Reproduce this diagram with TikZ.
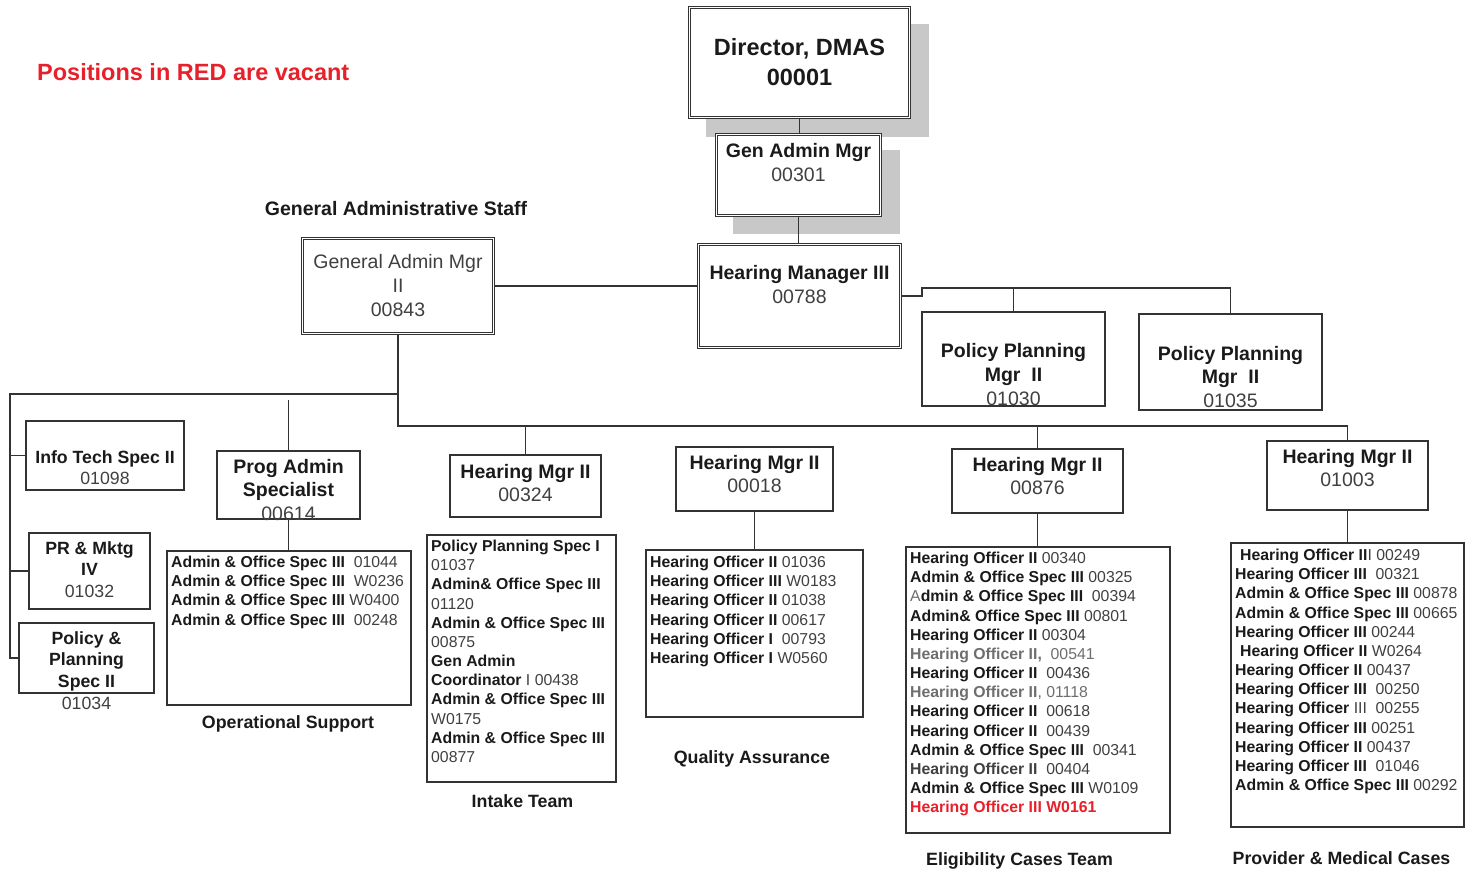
\documentclass[tikz,border=0pt]{standalone}
\usepackage{fontspec}
\setmainfont{Liberation Sans}
\usetikzlibrary{fit}

\definecolor{ink}{HTML}{1A1A1A}
\definecolor{numc}{HTML}{404040}
\definecolor{pale}{HTML}{6E6E6E}
\definecolor{rule}{HTML}{333333}
\definecolor{shadowgray}{HTML}{C8C8C8}
\definecolor{vacant}{HTML}{E8202A}

% position numbers are set upright in grey
\newcommand\numtxt[1]{{\mdseries\color{numc}#1}}

\begin{document}
\begin{tikzpicture}[x=1pt,y=-1pt,
  box/.style={draw=rule,line width=1.1pt,fill=white,inner sep=0pt,outer sep=0pt},
  dbox/.style={box,line width=0.9pt,double=white,double distance=1.8pt},
  conn/.style={draw=rule,line width=1.1pt},
  ttl/.style={anchor=north,align=center,inner sep=0pt,text=ink,
              font=\fontsize{19.5}{24}\selectfont\bfseries},
  sml/.style={ttl,font=\fontsize{17.7}{21.5}\selectfont\bfseries},
  lst/.style={anchor=north west,align=left,inner sep=0pt,text=ink,
              font=\fontsize{15.8}{19.15}\selectfont\bfseries},
  lbl/.style={anchor=base,inner sep=0pt,text=ink,
              font=\fontsize{17.8}{21}\selectfont\bfseries},
]
\useasboundingbox[fill=white] (0,0) rectangle (1471,871);

% drop shadows of the two top boxes
\fill[shadowgray] (706,24) rectangle (929,137);
\fill[shadowgray] (733,150) rectangle (900,234);

% ---------- boxes ----------
\node[dbox,fit={(689.5,7.5)(909.5,117.5)}] (dir) {};
\node[dbox,fit={(716.5,134.5)(880.5,215.5)}] (gam) {};
\node[dbox,fit={(698.5,244.5)(900.5,347.5)}] (hm3) {};
\node[dbox,fit={(302.5,238.5)(493.5,333.5)}] (gam2) {};

\node[box,fit={(922,312)(1105,406)}] (ppm1) {};
\node[box,fit={(1139,314)(1322,410)}] (ppm2) {};

\node[box,fit={(26,421)(184,490)}] (info) {};
\node[box,fit={(29,533)(150,609)}] (pr) {};
\node[box,fit={(19,623)(154,693)}] (polsp) {};
\node[box,fit={(217,451)(360,519)}] (prog) {};

\node[box,fit={(450,455)(601,517)}] (hm324) {};
\node[box,fit={(676,447)(833,511)}] (hm018) {};
\node[box,fit={(952,449)(1123,513)}] (hm876) {};
\node[box,fit={(1267,441)(1428,510)}] (hm1003) {};

\node[box,fit={(167,551)(411,705)}] (ops) {};
\node[box,fit={(427,535)(616,782)}] (intake) {};
\node[box,fit={(646,550)(863,717)}] (qa) {};
\node[box,fit={(906,547)(1170,833)}] (elig) {};
\node[box,fit={(1231,543)(1464,827)}] (prov) {};

% ---------- connectors ----------
\coordinate (ppjog) at (922,288);
\coordinate (lbus) at (10,394);
\coordinate (rbus) at (398,426);
\coordinate (progtop) at (288.5,400);

\draw[conn] (dir.south) -- (dir.south |- gam.north);
\draw[conn] (gam.south) -- (gam.south |- hm3.north);
\draw[conn] (gam2.east) -- (gam2.east -| hm3.west);
\draw[conn] (hm3.east) -| (ppjog) -| (ppm2.north);
\draw[conn] (ppm1.north |- ppjog) -- (ppm1.north);

\draw[conn] (gam2.south) -- (rbus) -| (hm1003.north);
\draw[conn] (gam2.south |- lbus) -- (lbus) |- (polsp.west);
\draw[conn] (lbus |- info.west) -- (info.west);
\draw[conn] (lbus |- pr.west) -- (pr.west);
\draw[conn] (progtop) -- (prog.north);
\draw[conn] (prog.south) -- (prog.south |- ops.north);
\draw[conn] (hm324.north |- rbus) -- (hm324.north);
\draw[conn] (hm876.north |- rbus) -- (hm876.north);
\draw[conn] (hm018.south) -- (hm018.south |- qa.north);
\draw[conn] (hm876.south) -- (hm876.south |- elig.north);
\draw[conn] (hm1003.south) -- (hm1003.south |- prov.north);

% redraw double outlines over connector ends
\foreach \b in {dir,gam,hm3,gam2}{\draw[rule,line width=0.9pt,double=white,double distance=1.8pt] (\b.north west) rectangle (\b.south east);}

% ---------- box texts ----------
\node[ttl,font=\fontsize{23.5}{30}\selectfont\bfseries] (dirT) at (799.5,38) {Director, DMAS\\00001};
\node[ttl,font=\fontsize{19.5}{24.5}\selectfont\bfseries] (gamT) at (798.5,143) {Gen Admin Mgr\\\numtxt{00301}};
\node[ttl] (hm3T) at (799.5,265) {Hearing Manager III\\\numtxt{00788}};
\node[ttl,font=\fontsize{19.5}{24}\selectfont,text=numc] (gam2T) at (398,254) {General Admin Mgr\\II\\00843};
\node[ttl] (ppm1T) at (1013.5,343) {Policy Planning\\Mgr~~II\\\numtxt{01030}};
\node[ttl,font=\fontsize{19.5}{23.5}\selectfont\bfseries] (ppm2T) at (1230.5,346) {Policy Planning\\Mgr~~II\\\numtxt{01035}};

\node[sml,font=\fontsize{17.7}{21}\selectfont\bfseries] (infoT) at (105,450) {Info Tech Spec II\\\numtxt{01098}};
\node[sml] (prT) at (89.5,541) {PR \& Mktg\\IV\\\numtxt{01032}};
\node[sml,font=\fontsize{17.7}{21.7}\selectfont\bfseries] (polspT) at (86.5,631) {Policy \&\\Planning\\Spec II\\\numtxt{01034}};
\node[ttl,font=\fontsize{19.5}{23.5}\selectfont\bfseries] (progT) at (288.5,459) {Prog Admin\\Specialist\\\numtxt{00614}};

\node[ttl,font=\fontsize{19.5}{23}\selectfont\bfseries] (hm324T) at (525.5,464) {Hearing Mgr II\\\numtxt{00324}};
\node[ttl,font=\fontsize{19.5}{23}\selectfont\bfseries] (hm018T) at (754.5,455) {Hearing Mgr II\\\numtxt{00018}};
\node[ttl,font=\fontsize{19.5}{23}\selectfont\bfseries] (hm876T) at (1037.5,457) {Hearing Mgr II\\\numtxt{00876}};
\node[ttl,font=\fontsize{19.5}{23}\selectfont\bfseries] (hm1003T) at (1347.5,449) {Hearing Mgr II\\\numtxt{01003}};

% ---------- staff lists ----------
\node[lst] (opsL) at (171,556) {%
Admin \& Office Spec III~~\numtxt{01044}\\
Admin \& Office Spec III~~\numtxt{W0236}\\
Admin \& Office Spec III \numtxt{W0400}\\
Admin \& Office Spec III~~\numtxt{00248}};

\node[lst] (intakeL) at (431,540) {%
Policy Planning Spec I\\
\numtxt{01037}\\
Admin\& Office Spec III\\
\numtxt{01120}\\
Admin \& Office Spec III\\
\numtxt{00875}\\
Gen Admin\\
Coordinator \numtxt{I 00438}\\
Admin \& Office Spec III\\
\numtxt{W0175}\\
Admin \& Office Spec III\\
\numtxt{00877}};

\node[lst] (qaL) at (650,556) {%
Hearing Officer II \numtxt{01036}\\
Hearing Officer III \numtxt{W0183}\\
Hearing Officer II \numtxt{01038}\\
Hearing Officer II \numtxt{00617}\\
Hearing Officer I~~\numtxt{00793}\\
Hearing Officer I \numtxt{W0560}};

\node[lst] (eligL) at (910,552) {%
Hearing Officer II \numtxt{00340}\\
Admin \& Office Spec III \numtxt{00325}\\
{\mdseries\color{pale}A}dmin \& Office Spec III~~\numtxt{00394}\\
Admin\& Office Spec III \numtxt{00801}\\
Hearing Officer II \numtxt{00304}\\
{\color{pale}Hearing Officer II,~~\mdseries 00541}\\
Hearing Officer II~~\numtxt{00436}\\
{\color{pale}Hearing Officer II{\mdseries, 01118}}\\
Hearing Officer II~~\numtxt{00618}\\
Hearing Officer II~~\numtxt{00439}\\
Admin \& Office Spec III~~\numtxt{00341}\\
{\color{numc}Hearing Officer II~~\mdseries 00404}\\
Admin \& Office Spec III \numtxt{W0109}\\
{\color{vacant}Hearing Officer III W0161}};

\node[lst] (provL) at (1235,549) {%
\hspace*{5pt}Hearing Officer II\numtxt{I 00249}\\
Hearing Officer III~~\numtxt{00321}\\
Admin \& Office Spec III \numtxt{00878}\\
Admin \& Office Spec III \numtxt{00665}\\
Hearing Officer III \numtxt{00244}\\
\hspace*{5pt}Hearing Officer II \numtxt{W0264}\\
Hearing Officer II \numtxt{00437}\\
Hearing Officer III~~\numtxt{00250}\\
Hearing Officer \numtxt{III~~00255}\\
Hearing Officer III \numtxt{00251}\\
Hearing Officer II \numtxt{00437}\\
Hearing Officer III~~\numtxt{01046}\\
Admin \& Office Spec III \numtxt{00292}};

% ---------- captions ----------
\node[lbl,anchor=base west,text=vacant,font=\fontsize{23.5}{28}\selectfont\bfseries] (vacnote) at (37,80) {Positions in RED are vacant};
\node[lbl,font=\fontsize{19.5}{23}\selectfont\bfseries] (gasL) at (396,215) {General Administrative Staff};
\node[lbl] (opsC) at (288,728.4) {Operational Support};
\node[lbl] (intakeC) at (522.5,807.4) {Intake Team};
\node[lbl] (qaC) at (752,763.4) {Quality Assurance};
\node[lbl] (eligC) at (1019.5,865.4) {Eligibility Cases Team};
\node[lbl] (provC) at (1341.5,864.4) {Provider \& Medical Cases};
\end{tikzpicture}
\end{document}
